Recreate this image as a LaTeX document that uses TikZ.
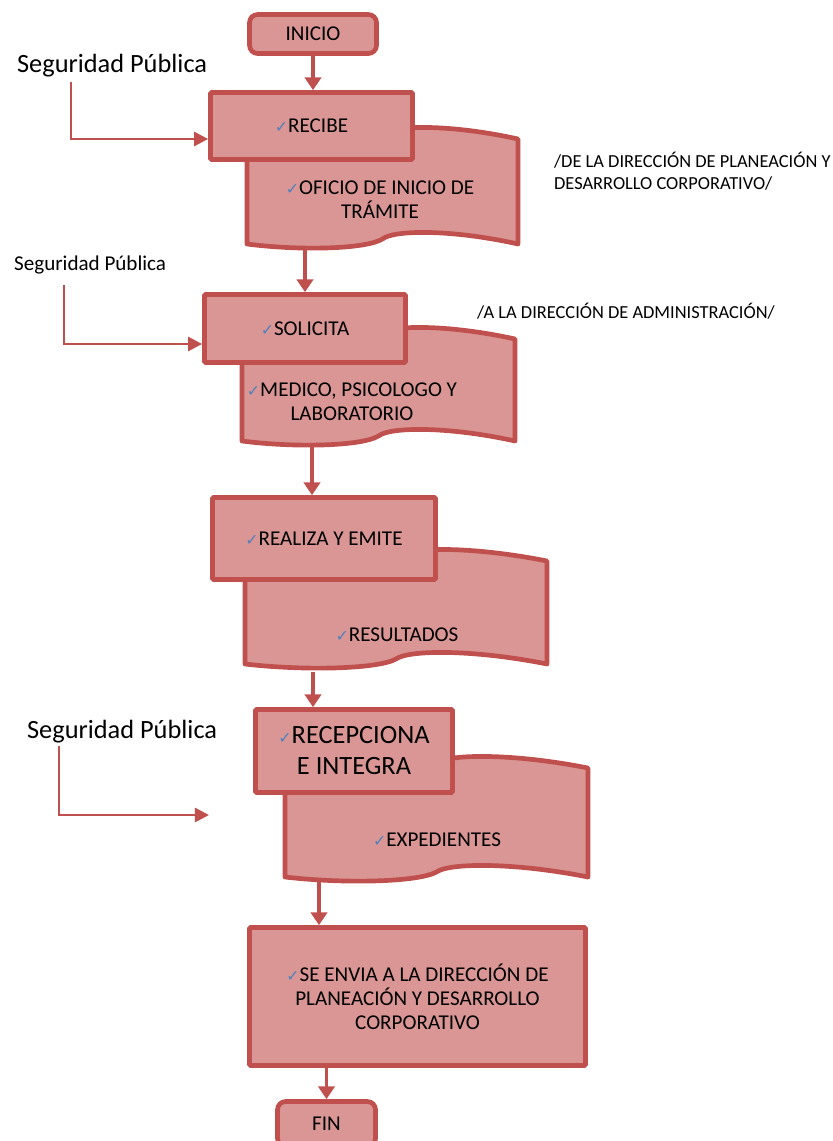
\documentclass[tikz,border=0pt]{standalone}
\usepackage{fontspec}
\setmainfont{Carlito}
\newfontfamily\symfont{DejaVu Sans}
\usetikzlibrary{arrows.meta}

\definecolor{boxred}{HTML}{C0504D}
\definecolor{boxfill}{HTML}{D99694}
\definecolor{tickblue}{HTML}{4F81BD}

% small blue tick in front of every step
\newcommand{\okmark}{{\symfont\fontsize{13.5}{13.5}\selectfont\color{tickblue}✓}}

% wavy document: left, top-right y, right, bottom-right y
\newcommand{\wavedoc}[4]{%
  \pgfmathsetmacro\docw{#3-#1}
  \pgfmathsetmacro\docm{(#1+#3)/2}
  \draw[docshape] (#1,#2)
    .. controls ({#1+0.2*\docw},{#2+7}) and ({\docm-0.06*\docw},{#2+5}) .. (\docm,{#2-5})
    .. controls ({\docm+0.04*\docw},{#2-14}) and ({#3-0.25*\docw},{#2-15}) .. (#3,#2)
    -- (#3,#4)
    .. controls ({#3-0.25*\docw},{#4-15}) and ({\docm+0.04*\docw},{#4-14}) .. (\docm,{#4-5})
    .. controls ({\docm-0.06*\docw},{#4+5}) and ({#1+0.2*\docw},{#4+7}) .. (#1,#4)
    -- cycle;}

\tikzset{
  procbox/.style={draw=boxred, fill=boxfill, line width=4pt, rounded corners=1pt,
    align=center, inner sep=0pt, font=\fontsize{18}{20.5}\selectfont},
  termbox/.style={procbox, rounded corners=7pt},
  docshape/.style={draw=boxred, fill=boxfill, line width=4pt, line join=round},
  doctext/.style={align=center, font=\fontsize{18}{20.5}\selectfont},
  note/.style={align=left, font=\fontsize{15.7}{18.8}\selectfont},
  who/.style={anchor=base west, font=\fontsize{18}{21}\selectfont},
  bigwho/.style={anchor=base west, font=\fontsize{22.5}{26}\selectfont},
  flow/.style={draw=boxred, line width=3pt, -{Triangle[length=11pt,width=14pt]}},
  feed/.style={draw=boxred, line width=2.2pt, -{Triangle[length=12pt,width=12pt]}},
}

\begin{document}
\begin{tikzpicture}[x=0.03cm, y=-0.03cm]
  \useasboundingbox (0,0) rectangle (832,1141);
  \clip (0,0) rectangle (832,1141);

  % documents first, the step boxes sit on top of them
  \wavedoc{247}{139}{518}{244}
  \wavedoc{242}{339}{515}{441}
  \wavedoc{245}{561}{547}{664}
  \wavedoc{285}{768}{588}{877}

  \node[doctext] (oficio) at (380,200) {\okmark OFICIO DE INICIO DE\\TRÁMITE};
  \node[doctext] (medico) at (352,402) {\okmark MEDICO, PSICOLOGO Y\\LABORATORIO};
  \node[doctext] (resultados) at (397,635) {\okmark RESULTADOS};
  \node[doctext] (expedientes) at (437,840) {\okmark EXPEDIENTES};

  % steps
  \node[termbox, minimum width=3.81cm, minimum height=1.17cm] (inicio) at (313,34) {INICIO};
  \node[procbox, minimum width=6.06cm, minimum height=2.01cm] (recibe) at (311.5,126) {\okmark RECIBE};
  \node[procbox, minimum width=6.03cm, minimum height=2.04cm] (solicita) at (305,328.5) {\okmark SOLICITA};
  \node[procbox, minimum width=6.69cm, minimum height=2.46cm] (realiza) at (324,538.5) {\okmark REALIZA Y EMITE};
  \node[procbox, minimum width=5.91cm, minimum height=2.49cm, font=\fontsize{22.5}{26.5}\selectfont]
    (recepciona) at (354,751) {\okmark RECEPCIONA\\E INTEGRA};
  \node[procbox, minimum width=10.08cm, minimum height=4.14cm] (envia) at (417.5,996.5)
    {\okmark SE ENVIA A LA DIRECCIÓN DE\\PLANEACIÓN Y DESARROLLO\\CORPORATIVO};
  \node[termbox, minimum width=2.94cm, minimum height=1.35cm] (fin) at (326.5,1124) {FIN};

  % side notes
  \node[note, anchor=west] (nota1) at (550,171) {/DE LA DIRECCIÓN DE PLANEACIÓN Y\\DESARROLLO CORPORATIVO/};
  \node[note, anchor=base west] (nota2) at (473,318) {/A LA DIRECCIÓN DE ADMINISTRACIÓN/};

  \node[bigwho] (seg1) at (13,72) {Seguridad Pública};
  \node[who] (seg2) at (10,270) {Seguridad Pública};
  \node[bigwho] (seg3) at (23,738) {Seguridad Pública};

  % main flow
  \coordinate (d1) at (305,246);
  \coordinate (d2) at (312,444);
  \coordinate (d3) at (313,672);
  \coordinate (d4) at (319,881);
  \draw[flow] (inicio.south) -- (inicio.south |- recibe.north);
  \draw[flow] (d1) -- (d1 |- solicita.north);
  \draw[flow] (d2) -- (d2 |- realiza.north);
  \draw[flow] (d3) -- (d3 |- recepciona.north);
  \draw[flow] (d4) -- (d4 |- envia.north);
  \draw[flow] (fin.north |- envia.south) -- (fin.north);

  % inputs from Seguridad Publica
  \coordinate (s1) at (71,82);
  \coordinate (s1c) at (71,139);
  \draw[feed] (s1) -- (s1c) -- (s1c -| recibe.west);
  \coordinate (s2) at (64,285);
  \coordinate (s2c) at (64,344);
  \draw[feed] (s2) -- (s2c) -- (s2c -| solicita.west);
  \coordinate (s3) at (59,746);
  \coordinate (s3c) at (59,815);
  \coordinate (s3e) at (209,815);
  \draw[feed] (s3) -- (s3c) -- (s3e);
\end{tikzpicture}
\end{document}
